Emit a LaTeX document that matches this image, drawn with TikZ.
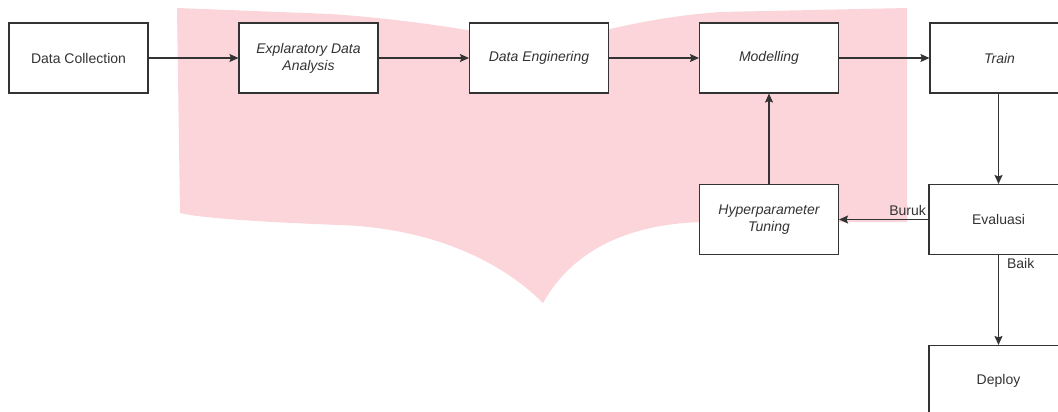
\documentclass[tikz,border=0pt]{standalone}
\usepackage{fontspec}
\setmainfont{Liberation Sans}
\usetikzlibrary{arrows.meta}
\definecolor{ink}{RGB}{51,51,51}
\definecolor{wm}{RGB}{251,213,217}
\tikzset{
  box/.style={draw=ink, line width=1.1pt, fill=white, minimum width=139pt, minimum height=70pt,
    inner sep=2pt, align=center, text=ink, font=\fontsize{14}{17}\selectfont},
  ibox/.style={box, font=\fontsize{14}{17}\selectfont\itshape},
  arr/.style={draw=ink, line width=1.1pt, -{Stealth[length=9pt,width=8pt,inset=1.5pt]}},
  lbl/.style={text=ink, font=\fontsize{14}{17}\selectfont, inner sep=2pt}
}
\begin{document}
\begin{tikzpicture}[x=1pt,y=-1pt]
\useasboundingbox (0,0) rectangle (1058,412);
\clip (0,0) rectangle (1058,412);
\fill[white] (0,0) rectangle (1058,412);
% watermark (open book)
\fill[wm] (177,8) -- (330,14) .. controls (420,20) and (500,35) .. (543,45)
  .. controls (590,35) and (640,18) .. (720,12) -- (907,8) -- (907,222) -- (700,222)
  .. controls (620,225) and (570,255) .. (543,303)
  .. controls (500,260) and (430,228) .. (340,225)
  .. controls (260,222) and (200,218) .. (180,213) -- cycle;
% nodes
\node[box]  (dc)   at (78.5,58)   {Data Collection};
\node[ibox] (eda)  at (308.5,58)  {Explaratory Data\\Analysis};
\node[ibox] (de)   at (539,58)    {Data Enginering};
\node[ibox] (mod)  at (769,58)    {Modelling};
\node[ibox] (tr)   at (999.5,58)  {Train};
\node[ibox] (hyp)  at (769,219.5) {Hyperparameter\\Tuning};
\node[box]  (ev)   at (998.5,219.5) {Evaluasi};
\node[box]  (dep)  at (998.5,380.5) {Deploy};
% connectors
\draw[arr] (dc.east) -- (eda.west);
\draw[arr] (eda.east) -- (de.west);
\draw[arr] (de.east) -- (mod.west);
\draw[arr] (mod.east) -- (tr.west);
\draw[arr] (tr.south -| ev.north) -- (ev.north);
\draw[arr] (ev.west) -- node[lbl, pos=0, anchor=south east, yshift=1pt] {Buruk} (hyp.east);
\draw[arr] (hyp.north) -- (mod.south);
\draw[arr] (ev.south) -- node[lbl, pos=0, anchor=north west, xshift=6pt, yshift=-1pt] {Baik} (dep.north);
\end{tikzpicture}
\end{document}
